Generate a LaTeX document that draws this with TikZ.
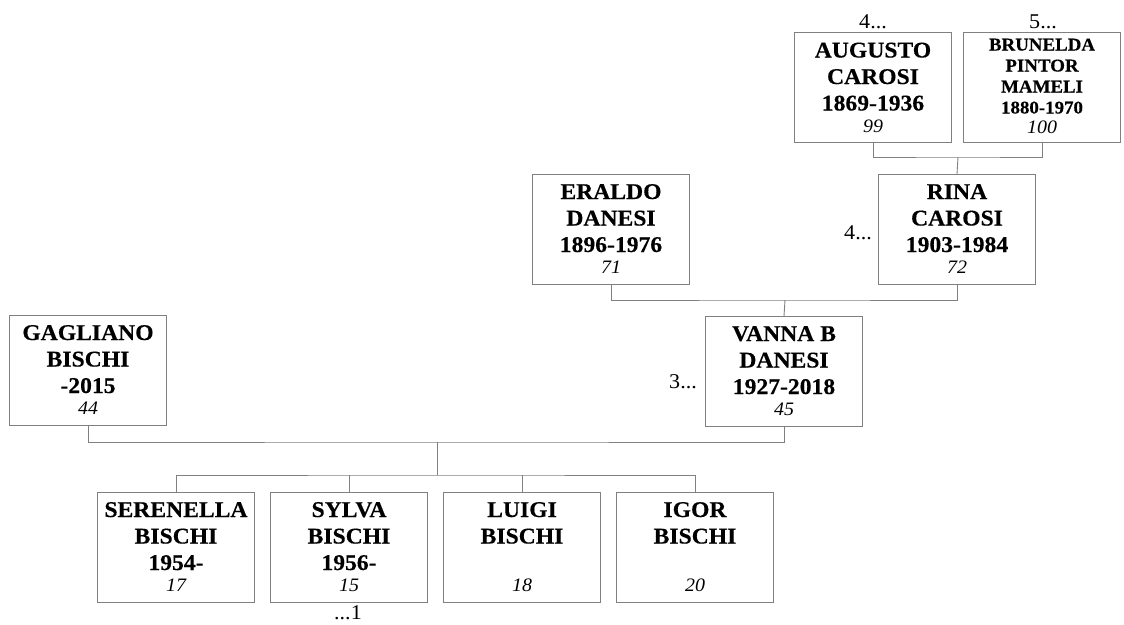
\documentclass[tikz,border=0pt]{standalone}
\usepackage{fontspec}
\setmainfont{Liberation Serif}[FakeStretch=1.05,BoldFeatures={FakeBold=0.35}]
\definecolor{linegray}{RGB}{128,128,128}
\newcommand\nmf{\fontsize{22.5}{22.5}\selectfont\bfseries}
\newcommand\smf{\fontsize{18}{18}\selectfont\bfseries}
\newcommand\nuf{\fontsize{19}{19}\selectfont\itshape}
\newcommand\pline[2]{\hbox to\hsize{\hss\vrule height #1 depth 0pt width 0pt\smash{#2}\hss}}
\newcommand\pstack[1]{\vbox to 110pt{\offinterlineskip\hsize=157pt #1\vss}}
\newcommand\pthree[4]{\pstack{\pline{25pt}{\nmf #1}\pline{26.5pt}{\nmf #2}\pline{26.5pt}{\nmf #3}\pline{21.5pt}{\nuf #4}}}
\begin{document}
\begin{tikzpicture}[x=1pt,y=-1pt,
  pbox/.style={draw=linegray,line width=0.9pt,inner sep=0pt,outer sep=0pt,fill=white},
  conn/.style={draw=linegray,line width=0.9pt},
  lbl/.style={font=\fontsize{21}{21}\selectfont,inner sep=0pt}]
\useasboundingbox (0,0) rectangle (1124,624);
% generation 4
\node[pbox] (aug) at (873,87.5) {\pthree{AUGUSTO}{CAROSI}{1869-1936}{99}};
\node[pbox] (bru) at (1042,87.5) {\pstack{\pline{18pt}{\smf BRUNELDA}\pline{21pt}{\smf PINTOR}\pline{21pt}{\smf MAMELI}\pline{21pt}{\smf 1880-1970}\pline{19.5pt}{\nuf 100}}};
% generation 3
\node[pbox] (era) at (611,229) {\pthree{ERALDO}{DANESI}{1896-1976}{71}};
\node[pbox] (rin) at (957,229) {\pthree{RINA}{CAROSI}{1903-1984}{72}};
% generation 2
\node[pbox] (gag) at (88,370) {\pthree{GAGLIANO}{BISCHI}{-2015}{44}};
\node[pbox] (van) at (784,371) {\pthree{VANNA B}{DANESI}{1927-2018}{45}};
% generation 1
\node[pbox] (ser) at (176,547) {\pthree{SERENELLA}{BISCHI}{1954-}{17}};
\node[pbox] (syl) at (349,547) {\pthree{SYLVA}{BISCHI}{1956-}{15}};
\node[pbox] (lui) at (522,547) {\pthree{LUIGI}{BISCHI}{}{18}};
\node[pbox] (igo) at (695,547) {\pthree{IGOR}{BISCHI}{}{20}};
% labels
\node[lbl,anchor=base] (l4a) at (873,28) {4...};
\node[lbl,anchor=base] (l5) at (1043,28) {5...};
\node[lbl,anchor=base east] (l4b) at (872,239) {4...};
\node[lbl,anchor=base east] (l3) at (697,388) {3...};
\node[lbl,anchor=base] (l1) at (348,619) {...1};
% connectors
\coordinate (j4) at (958,157);
\draw[conn] (aug.south) |- (j4) -| (bru.south);
\draw[conn] (j4) -- (rin.north);
\coordinate (j3) at (785,300);
\draw[conn] (era.south) |- (j3) -| (rin.south);
\draw[conn] (j3) -- (van.north);
\coordinate (j2) at (437,442);
\coordinate (kids) at (437,475);
\draw[conn] (gag.south) |- (j2) -| (van.south);
\draw[conn] (j2) -- (kids);
\draw[conn] (ser.north) |- (kids) -| (igo.north);
\draw[conn] (syl.north) -- (syl.north |- kids);
\draw[conn] (lui.north) -- (lui.north |- kids);
\end{tikzpicture}
\end{document}
